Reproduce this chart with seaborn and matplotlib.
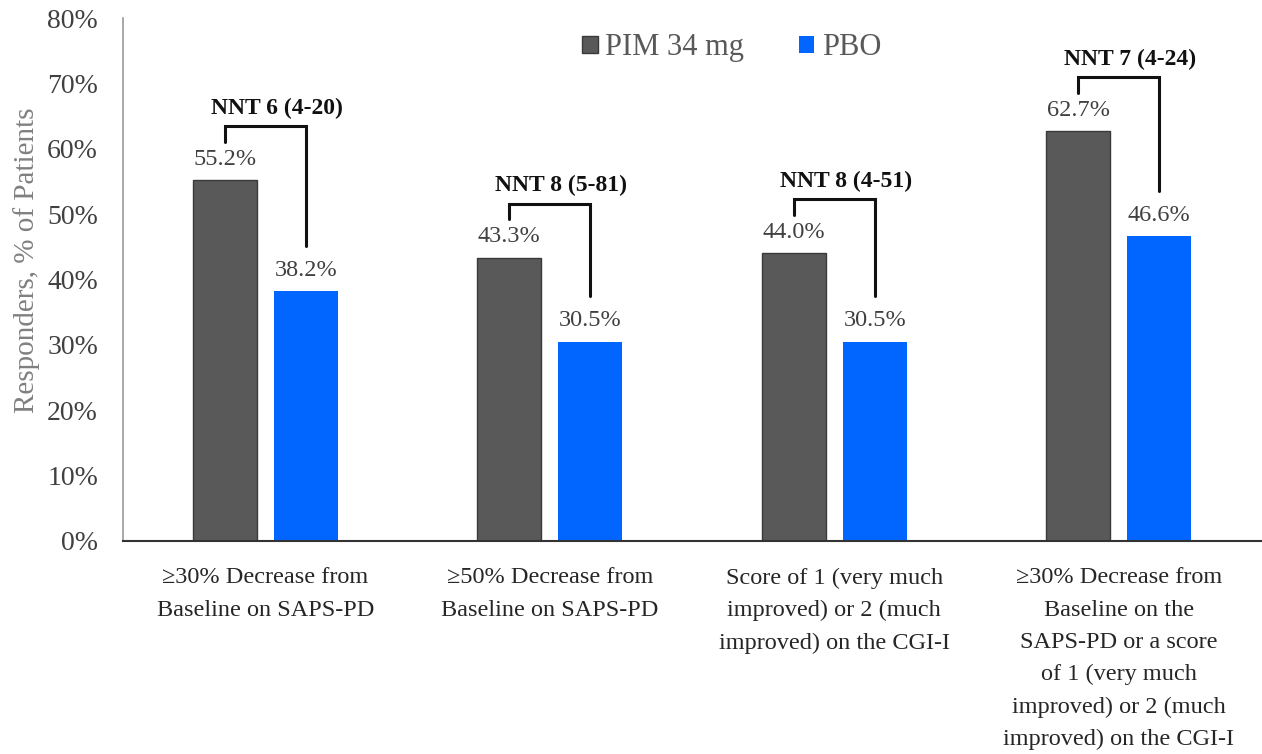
import matplotlib
matplotlib.use("Agg")
import matplotlib.pyplot as plt
import seaborn as sns
import pandas as pd

# Outcome categories (x axis)
categories = [
    "\u226530% Decrease from\nBaseline on SAPS-PD",
    "\u226550% Decrease from\nBaseline on SAPS-PD",
    "Score of 1 (very much\nimproved) or 2 (much\nimproved) on the CGI-I",
    "\u226530% Decrease from\nBaseline on the\nSAPS-PD or a score\nof 1 (very much\nimproved) or 2 (much\nimproved) on the CGI-I",
]
groups = ["PIM 34 mg", "PBO"]
pim_values = [55.2, 43.3, 44.0, 62.7]
pbo_values = [38.2, 30.5, 30.5, 46.6]
nnt_labels = ["NNT 6 (4-20)", "NNT 8 (5-81)", "NNT 8 (4-51)", "NNT 7 (4-24)"]
y_ticks = [0, 10, 20, 30, 40, 50, 60, 70, 80]

df = pd.DataFrame({
    "category": categories * 2,
    "group": [groups[0]] * len(categories) + [groups[1]] * len(categories),
    "value": pim_values + pbo_values,
})

sns.set_theme(style="white")
plt.rcParams["font.family"] = ["Liberation Serif", "DejaVu Serif"]

fig = plt.figure(figsize=(12.62, 7.54), dpi=100)
ax = fig.add_axes([0.0975, 0.2825, 0.9017, 0.6936])

palette = {"PIM 34 mg": "#595959", "PBO": "#0066FF"}
sns.barplot(data=df, x="category", y="value", hue="group", hue_order=groups,
            palette=palette, width=0.57, gap=0.21, saturation=1,
            order=categories, ax=ax, errorbar=None)

# outline the dark bars slightly
for bar in ax.patches:
    fc = bar.get_facecolor()
    if fc[2] < 0.5:
        bar.set_edgecolor("#3a3a3a")
        bar.set_linewidth(1.0)
    else:
        bar.set_edgecolor("none")

ax.set_xlim(-0.5, 3.5)
ax.set_ylim(0, 80)
ax.set_yticks(y_ticks)
ax.set_yticklabels([f"{t}%" for t in y_ticks])
ax.tick_params(axis="y", length=0, pad=18, labelsize=20, labelcolor="#404040")
ax.tick_params(axis="x", length=0, pad=19, labelsize=17.5, labelcolor="#262626")
for lbl in ax.get_xticklabels():
    lbl.set_linespacing(1.7)
ax.set_xlabel("")
ax.set_ylabel("Responders, % of Patients", fontsize=21, color="#808080")
ax.yaxis.set_label_coords(-0.073, 0.537)

for side in ["top", "right"]:
    ax.spines[side].set_visible(False)
ax.spines["left"].set_color("#9a9a9a")
ax.spines["left"].set_linewidth(1.2)
ax.spines["bottom"].set_color("#333333")
ax.spines["bottom"].set_linewidth(1.5)

off = 0.1425
for i in range(len(categories)):
    pim, pbo = pim_values[i], pbo_values[i]
    x0, x1 = i - off, i + off
    ax.text(x0, pim + 1.6, f"{pim:.1f}%", ha="center", va="bottom",
            fontsize=17.5, color="#404040")
    ax.text(x1, pbo + 1.6, f"{pbo:.1f}%", ha="center", va="bottom",
            fontsize=17.5, color="#404040")
    top = pim + 8.3
    ax.plot([x0, x0, x1, x1], [pim + 5.9, top, top, pbo + 7.0],
            color="#111111", lw=2.2, solid_joinstyle="miter")
    ax.text(i + 0.04, top + 1.1, nnt_labels[i], ha="center", va="bottom",
            fontsize=17, fontweight="bold", color="#111111")

leg = ax.legend(loc="center", bbox_to_anchor=(0.535, 0.943), ncol=2,
                frameon=False, fontsize=22, handlelength=0.5, handleheight=0.5,
                handletextpad=0.25, columnspacing=1.8)
for t in leg.get_texts():
    t.set_color("#595959")

fig.savefig("out.png", dpi=100)
